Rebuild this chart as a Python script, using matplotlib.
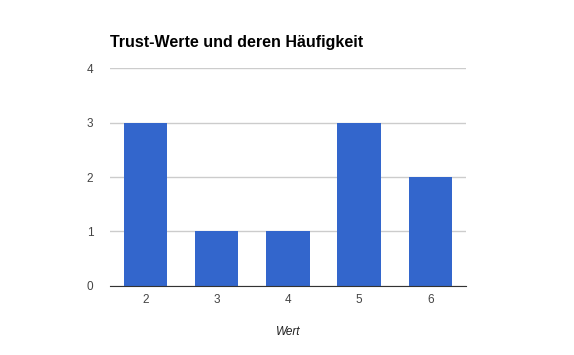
import matplotlib.pyplot as plt

# trust values and how often they occur
werte = [2, 3, 4, 5, 6]
haeufigkeit = [3, 1, 1, 3, 2]
y_ticks = [0, 1, 2, 3, 4]

plt.rcParams['font.family'] = ['Liberation Sans', 'DejaVu Sans']

fig = plt.figure(figsize=(5.74, 3.55), dpi=100)
ax = fig.add_axes([0.1916, 0.1944, 0.62, 0.614])

ax.bar(werte, haeufigkeit, width=0.61, color="#3366cc", zorder=3)

ax.set_xlim(1.5, 6.5)
ax.set_ylim(0, 4)
ax.set_yticks(y_ticks)
ax.set_xticks(werte)
ax.tick_params(axis='both', length=0, labelsize=8.5, labelcolor="#444444")
ax.tick_params(axis='y', pad=12)
ax.tick_params(axis='x', pad=6)

ax.grid(axis='y', color="#cccccc", linewidth=1, zorder=0)
for side in ['top', 'right', 'left']:
    ax.spines[side].set_visible(False)
ax.spines['bottom'].set_color("#333333")
ax.spines['bottom'].set_zorder(4)

ax.set_xlabel("Wert", fontsize=8.5, fontstyle='italic', color="#222222", labelpad=14)

fig.text(0.1916, 0.88, "Trust-Werte und deren Häufigkeit", fontsize=11.5,
         fontweight='bold', color="black", ha='left', va='center')

fig.savefig("out.png", dpi=100)
